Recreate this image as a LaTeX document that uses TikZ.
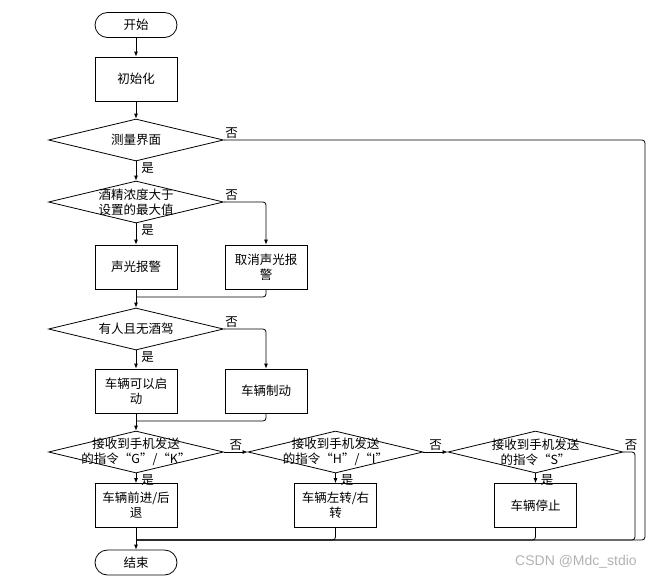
\documentclass[tikz,border=0pt]{standalone}
\usepackage{fontspec}
\setmainfont{Noto Sans CJK SC}
\newfontfamily\markfont{Liberation Sans}
\usetikzlibrary{shapes.geometric, arrows.meta}

\tikzset{
  terminal/.style={draw, line width=0.8pt, rounded corners=12.5pt, minimum width=82pt, minimum height=25pt, inner sep=0pt},
  process/.style={draw, line width=0.8pt, minimum width=82pt, minimum height=44pt, align=center, inner sep=0pt},
  decision/.style={draw, line width=0.8pt, diamond, minimum width=175pt, minimum height=42pt, inner sep=0pt},
  line/.style={draw, line width=0.8pt, rounded corners=3pt},
  arrow/.style={line, -{Latex[length=5pt, width=4pt]}},
  yes/.style={anchor=north west, inner sep=1pt, xshift=4pt},
  no/.style={anchor=south west, inner sep=1pt},
}

\begin{document}
\begin{tikzpicture}[x=1pt, y=-1pt, font=\fontsize{12.5}{15}\selectfont]
  \useasboundingbox (0,0) rectangle (653,579);
  % 开始 / 初始化
  \node[terminal] (start) at (136,25) {开始};
  \node[process] (init) at (136,79) {初始化};
  \node[decision, label={center:测量界面}] (d1) at (136,140) {};
  % 酒精浓度
  \node[decision, label={[align=center]center:酒精浓度大于\\设置的最大值}] (d2) at (136,202) {};
  \node[process] (alarm) at (136,267) {声光报警};
  \node[process] (cancel) at (266,267) {取消声光报\\警};
  % 酒驾判断
  \node[decision, label={center:有人且无酒驾}] (d3) at (136,329) {};
  \node[process] (startok) at (136,391) {车辆可以启\\动};
  \node[process] (brake) at (266,391) {车辆制动};
  % 手机指令
  \node[decision, label={[align=center]center:接收到手机发送\\的指令“G”/“K”}] (gk) at (136,452) {};
  \node[decision, label={[align=center]center:接收到手机发送\\的指令“H”/“I”}] (hi) at (335.5,452) {};
  \node[decision, label={[align=center]center:接收到手机发送\\的指令“S”}] (s) at (535.5,452) {};
  \node[process] (move) at (136,505.5) {车辆前进/后\\退};
  \node[process] (turn) at (335.5,505.5) {车辆左转/右\\转};
  \node[process] (stop) at (535.5,505.5) {车辆停止};
  % 结束
  \node[terminal] (end) at (136,562.5) {结束};
  \node[text=gray!60, font=\markfont\fontsize{14}{16}\selectfont] (mark) at (576,562) {CSDN @Mdc\_stdio};

  \coordinate (m1) at (136,297);
  \coordinate (m2) at (136,421);
  \coordinate (m3) at (136,540);
  \coordinate (r1) at (645,540);
  \coordinate (r2) at (635,540);

  % 连线
  \draw[arrow] (start) -- (init);
  \draw[arrow] (init) -- (d1);
  \draw[arrow] (d1) -- node[yes, pos=0] {是} (d2);
  \draw[line] (d1.east) node[no] {否} -| (r1) -- (m3);
  \draw[arrow] (d2) -- node[yes, pos=0] {是} (alarm);
  \draw[arrow] (d2.east) node[no] {否} -| (cancel.north);
  \draw[line] (cancel.south) |- (m1);
  \draw[arrow] (alarm) -- (d3);
  \draw[arrow] (d3) -- node[yes, pos=0] {是} (startok);
  \draw[arrow] (d3.east) node[no] {否} -| (brake.north);
  \draw[line] (brake.south) |- (m2);
  \draw[arrow] (startok) -- (gk);
  \draw[arrow] (gk) -- node[yes, pos=0] {是} (move);
  \draw[arrow] (gk.east) -- node[midway, above, inner sep=1pt] {否} (hi.west);
  \draw[arrow] (hi) -- node[yes, pos=0] {是} (turn);
  \draw[arrow] (hi.east) -- node[midway, above, inner sep=1pt] {否} (s.west);
  \draw[arrow] (s) -- node[yes, pos=0] {是} (stop);
  \draw[line] (s.east) node[no] {否} -| (r2) -- (m3);
  \draw[line] (turn.south) |- (m3);
  \draw[line] (stop.south) |- (m3);
  \draw[arrow] (move) -- (end);
\end{tikzpicture}
\end{document}
